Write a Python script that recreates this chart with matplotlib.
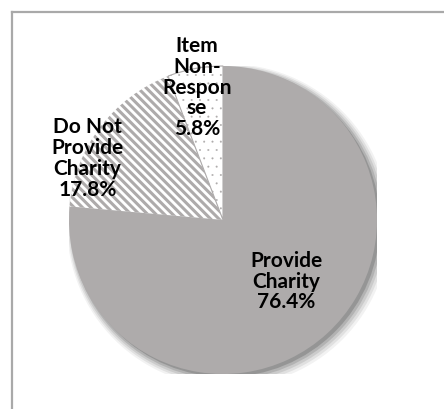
import matplotlib
matplotlib.use("Agg")
import matplotlib.pyplot as plt
from matplotlib.patches import Circle

labels = ["Provide\nCharity", "Do Not\nProvide\nCharity", "Item\nNon-\nRespon\nse"]
shares = [76.4, 17.8, 5.8]
fills = ["#aeabab", "white", "white"]
hatches = [None, "\\\\\\\\", ".."]
# label centres in pie-radius units
label_pos = [(0.41, -0.40), (-0.88, 0.40), (-0.17, 0.86)]

gray = "#aeabab"
plt.rcParams["hatch.linewidth"] = 2.2
plt.rcParams["font.family"] = ["Lato", "DejaVu Sans"]

fig = plt.figure(figsize=(4.44, 4.09), dpi=100)
fig.patch.set_facecolor("white")

# chart frame, open to the right and bottom
fig.add_artist(plt.Line2D([11.5 / 444, 11.5 / 444], [0, 1 - 11.5 / 409],
                          transform=fig.transFigure, color="#a9a9a9", lw=1.6))
fig.add_artist(plt.Line2D([11.5 / 444, 1], [1 - 11.5 / 409, 1 - 11.5 / 409],
                          transform=fig.transFigure, color="#a9a9a9", lw=1.6))

cx, cy, r = 223, 220, 154
ax = fig.add_axes([(cx - r) / 444, (409 - cy - r) / 409, 2 * r / 444, 2 * r / 409])

wedges, _ = ax.pie(shares, startangle=90, counterclock=False, radius=1,
                   colors=fills, wedgeprops=dict(linewidth=0, edgecolor=gray))
ax.set_aspect("auto")
ax.set_xlim(-1, 1)
ax.set_ylim(-1, 1)
ax.axis("off")

# soft drop shadow
for i, a in enumerate([0.05, 0.07, 0.09, 0.12, 0.16]):
    off = 0.035 - i * 0.004
    ax.add_patch(Circle((off, -off), 1.0 + 0.012 * (4 - i), color="black",
                        alpha=a, lw=0, zorder=0))

for w, h in zip(wedges, hatches):
    w.set_zorder(2)
    if h:
        w.set_hatch(h)
        w.set_edgecolor(gray)
wedges[2].set_linewidth(0.8)
if hasattr(wedges[2], "set_hatch_linewidth"):
    wedges[2].set_hatch_linewidth(0.2)

for lab, val, (x, y) in zip(labels, shares, label_pos):
    ax.text(x, y, f"{lab}\n{val:.1f}%", ha="center", va="center",
            fontsize=15, fontweight="bold", linespacing=1.05, zorder=5)

fig.savefig("out.png", dpi=100)
